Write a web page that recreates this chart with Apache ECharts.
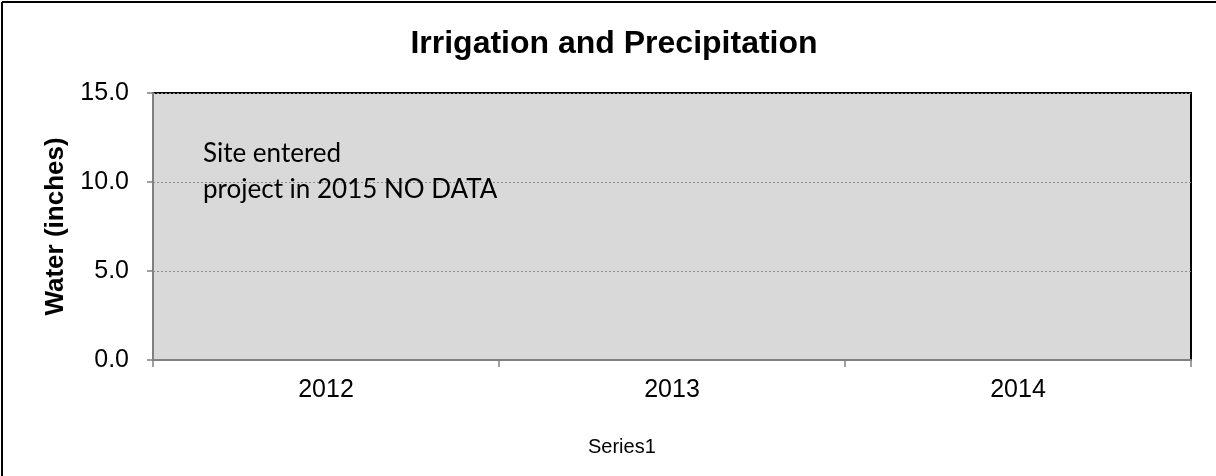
<!DOCTYPE html>
<html><head><meta charset="utf-8">
<script src="https://cdn.jsdelivr.net/npm/echarts@6/dist/echarts.min.js"></script>
<style>html,body{margin:0;padding:0;background:#fff}#c{width:1216px;height:476px}</style>
</head><body><div id="c"></div>
<script>
const categories = ['2012', '2013', '2014'];
const series1Values = [null, null, null];
const yTicks = [0, 5, 10, 15];
const titleText = 'Irrigation and Precipitation';
const yAxisName = 'Water (inches)';
const noteLines = ['Site entered', 'project in 2015 NO DATA'];

const chart = echarts.init(document.getElementById('c'), null, {renderer: 'canvas'});
chart.setOption({
  animation: false,
  backgroundColor: '#fff',
  title: {
    text: titleText, left: 609, top: 23, textAlign: 'center',
    textStyle: {fontFamily: 'Liberation Sans', fontWeight: 'bold', fontSize: 32, color: '#000'}
  },
  legend: {
    data: ['Series1'], left: 578, top: 432,
    icon: 'none', itemWidth: 0, itemGap: 0,
    textStyle: {fontFamily: 'Liberation Sans', fontSize: 20, color: '#000'}
  },
  grid: {
    left: 153, right: 25, top: 93, bottom: 116,
    show: true, backgroundColor: '#d9d9d9', borderColor: '#000', borderWidth: 2
  },
  xAxis: {
    type: 'category', data: categories, boundaryGap: true,
    axisLine: {lineStyle: {color: '#808080', width: 2}},
    axisTick: {show: true, length: 7, lineStyle: {color: '#808080', width: 1.5}},
    axisLabel: {margin: 18, fontFamily: 'Liberation Sans', fontSize: 25, color: '#000'},
    splitLine: {show: false}
  },
  yAxis: {
    type: 'value', min: yTicks[0], max: yTicks[yTicks.length - 1], interval: yTicks[1] - yTicks[0],
    name: yAxisName, nameLocation: 'middle', nameGap: 84, nameRotate: 90,
    nameTextStyle: {fontFamily: 'Liberation Sans', fontWeight: 'bold', fontSize: 26, color: '#000'},
    axisLine: {show: true, lineStyle: {color: '#808080', width: 2}},
    axisTick: {show: true, inside: false, length: 6, lineStyle: {color: '#808080', width: 1.5}},
    axisLabel: {margin: 24, fontFamily: 'Liberation Sans', fontSize: 25, color: '#000', formatter: v => v.toFixed(1)},
    splitLine: {show: true, lineStyle: {color: '#8c8c8c', type: [2, 2], width: 1}}
  },
  series: [{name: 'Series1', type: 'bar', data: series1Values}],
  graphic: [
    {type: 'line', shape: {x1: 2, y1: 2, x2: 1216, y2: 2}, style: {stroke: '#000', lineWidth: 2}, z: 100},
    {type: 'line', shape: {x1: 2, y1: 2, x2: 2, y2: 476}, style: {stroke: '#000', lineWidth: 2}, z: 100},
    {type: 'text', left: 203, top: 136, style: {text: noteLines.join('\n'), font: '26px Lato', lineHeight: 36, fill: '#000'}, z: 100}
  ]
});
</script></body></html>
